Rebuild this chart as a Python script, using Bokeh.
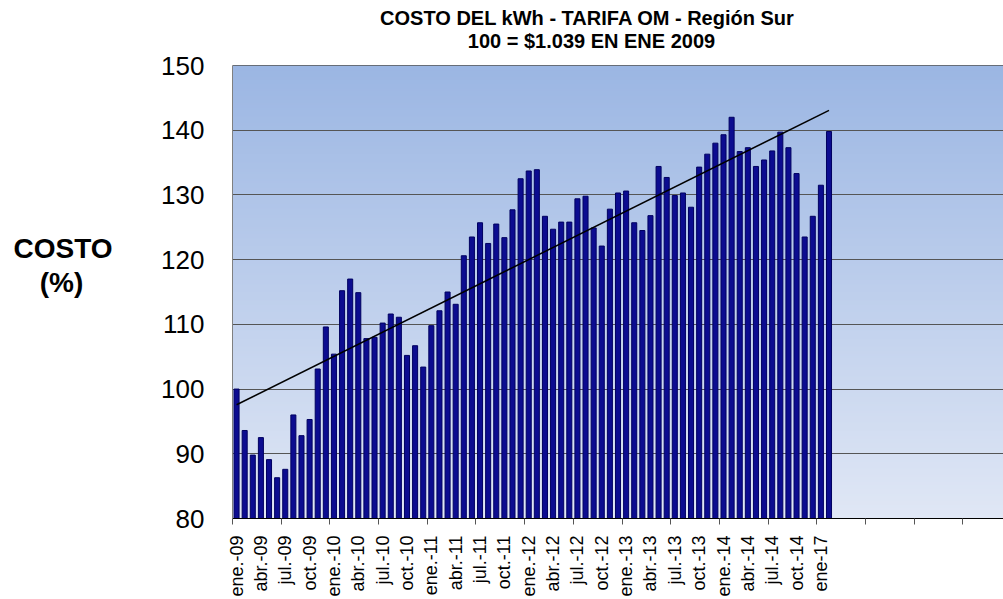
import math
import numpy as np
from bokeh.plotting import figure
from bokeh.layouts import column, row
from bokeh.models import Range1d, FixedTicker, Span
from bokeh.core.properties import value
from bokeh.embed import file_html
from bokeh.resources import INLINE

# ---- data ----
values = [
    100.0, 93.6, 89.8, 92.5, 89.1, 86.3, 87.6, 96.0, 92.8, 95.3, 103.1, 109.6,
    105.4, 115.2, 117.0, 114.9, 107.8, 108.0, 110.2, 111.6, 111.1, 105.2, 106.7, 103.4,
    109.8, 112.1, 115.0, 113.1, 120.6, 123.5, 125.7, 122.5, 125.5, 123.4, 127.7, 132.5,
    133.7, 133.9, 126.7, 124.7, 125.8, 125.8, 129.4, 129.8, 124.9, 122.1, 127.8, 130.3,
    130.6, 125.7, 124.5, 126.8, 134.4, 132.7, 129.9, 130.3, 128.1, 134.3, 136.3, 138.0,
    139.3, 142.0, 136.7, 137.3, 134.4, 135.4, 136.8, 139.7, 137.3, 133.3, 123.5, 126.7,
    131.5, 139.8,
]
tick_labels = [
    "ene.-09", "abr.-09", "jul.-09", "oct.-09",
    "ene.-10", "abr.-10", "jul.-10", "oct.-10",
    "ene.-11", "abr.-11", "jul.-11", "oct.-11",
    "ene.-12", "abr.-12", "jul.-12", "oct.-12",
    "ene.-13", "abr.-13", "jul.-13", "oct.-13",
    "ene.-14", "abr.-14", "jul.-14", "oct.-14",
    "ene-17",
]
label_every = 3
n_slots = 95
title_lines = ["COSTO DEL kWh - TARIFA OM - Región Sur", "100 = $1.039 EN ENE 2009"]
ytitle_lines = ["COSTO", "(%)"]

FONT = "Liberation Sans"
idx = list(range(len(values)))

W, H = 1003, 599
LEFT_W = 150          # width of the strip holding the y title
TOP_H = 51            # height of the strip holding the chart title
FRAME_L, FRAME_T, FRAME_W, FRAME_H = 232, 65, 771, 453
BOTTOM_B = H - FRAME_T - FRAME_H


def text_fig(width, height, xr, yr, **kw):
    f = figure(width=width, height=height, x_range=xr, y_range=yr, title=None,
               output_backend="svg", toolbar_location=None,
               x_axis_type=None, y_axis_type=None, outline_line_color=None, **kw)
    f.xgrid.visible = False
    f.ygrid.visible = False
    f.background_fill_color = "white"
    f.border_fill_color = "white"
    return f


# ---- left strip: y title (coordinates are page pixels) ----
left = text_fig(LEFT_W, H, Range1d(0, LEFT_W), Range1d(FRAME_T + FRAME_H, FRAME_T),
                min_border_left=0, min_border_right=0,
                min_border_top=FRAME_T, min_border_bottom=BOTTOM_B)
left.text(x=[62.5, 61], y=[248, 282], text=ytitle_lines,
          text_align="center", text_baseline="middle",
          text_font=value(FONT), text_font_size=value("28px"), text_font_style="bold",
          text_color="black")

# ---- top strip: chart title (coordinates are page pixels) ----
top = text_fig(W - LEFT_W, TOP_H, Range1d(FRAME_L, W), Range1d(TOP_H, 0),
               min_border_left=FRAME_L - LEFT_W, min_border_right=0,
               min_border_top=0, min_border_bottom=0)
top.text(x=[587, 591], y=[17, 40.5], text=title_lines,
         text_align="center", text_baseline="middle",
         text_font=value(FONT), text_font_size=value("20px"), text_font_style="bold",
         text_color="black")

# ---- main chart ----
p = figure(frame_width=FRAME_W, frame_height=FRAME_H, title=None,
           x_range=Range1d(-0.5, n_slots - 0.5), y_range=Range1d(80, 150),
           output_backend="svg", toolbar_location=None,
           min_border_left=FRAME_L - LEFT_W, min_border_right=0,
           min_border_top=FRAME_T - TOP_H, min_border_bottom=BOTTOM_B)
p.outline_line_color = None
p.background_fill_color = "#c0d0ec"
p.border_fill_color = "white"

# gradient background of the plot area
n = 256
t = np.linspace(0.0, 1.0, n)[:, None]
bottom_c = np.array([224, 231, 245], dtype=float)
top_c = np.array([155, 182, 227], dtype=float)
cols = bottom_c + (top_c - bottom_c) * t
img = np.zeros((n, 1), dtype=np.uint32)
view = img.view(dtype=np.uint8).reshape((n, 1, 4))
view[:, 0, 0] = cols[:, 0].round().astype(np.uint8)
view[:, 0, 1] = cols[:, 1].round().astype(np.uint8)
view[:, 0, 2] = cols[:, 2].round().astype(np.uint8)
view[:, 0, 3] = 255
r_img = p.image_rgba(image=[img], x=-0.5, y=80, dw=n_slots, dh=70)
r_img.level = "image"

# grid
p.xgrid.visible = False
p.ygrid.grid_line_color = "#555555"
p.ygrid.grid_line_width = 1

# bars
p.vbar(x=idx, top=values, bottom=80, width=0.62,
       fill_color="#0c0c90", line_color="#000060", line_width=1)

# linear trend line (least squares)
coef = np.polyfit(idx, values, 1)
tx = [idx[0], idx[-1]]
ty = [float(np.polyval(coef, v)) for v in tx]
p.line(tx, ty, line_color="black", line_width=1.5)

# top border
p.add_layout(Span(location=150, dimension="width", line_color="black", line_width=1))

# y axis
p.yaxis.ticker = FixedTicker(ticks=list(range(80, 151, 10)))
p.yaxis.major_label_text_font = FONT
p.yaxis.major_label_text_font_size = "26px"
p.yaxis.major_label_text_color = "black"
p.yaxis.major_tick_out = 0
p.yaxis.major_tick_in = 0
p.yaxis.minor_tick_out = 0
p.yaxis.minor_tick_in = 0
p.yaxis.major_label_standoff = 28
p.yaxis.axis_line_color = "#808080"

# x axis
label_pos = [i * label_every for i in range(len(tick_labels))]
boundaries = [b - 0.5 for b in range(0, n_slots, 6)]
p.xaxis.ticker = FixedTicker(ticks=label_pos, minor_ticks=boundaries)
p.xaxis.major_label_overrides = {pos: lab for pos, lab in zip(label_pos, tick_labels)}
p.xaxis.major_label_orientation = math.pi / 2
p.xaxis.major_label_text_font = FONT
p.xaxis.major_label_text_font_size = "18px"
p.xaxis.major_label_text_color = "black"
p.xaxis.major_tick_out = 0
p.xaxis.major_tick_in = 0
p.xaxis.minor_tick_out = 6
p.xaxis.minor_tick_in = 0
p.xaxis.minor_tick_line_color = "#555555"
p.xaxis.major_label_standoff = 11
p.xaxis.axis_line_color = "black"

layout = row(left, column(top, p, spacing=0), spacing=0)

open("out.html", "w").write(file_html(layout, INLINE))
